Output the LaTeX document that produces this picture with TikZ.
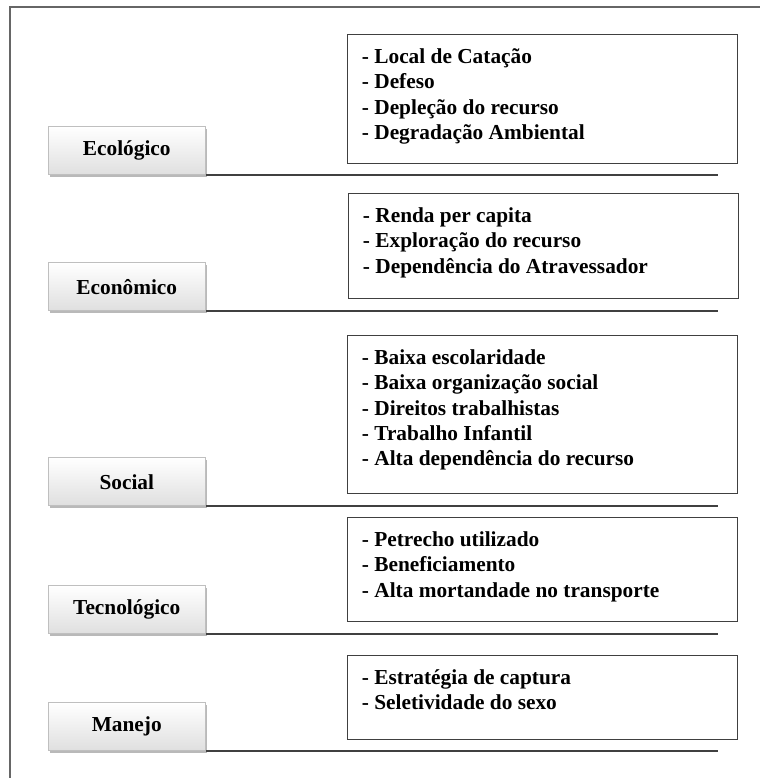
\documentclass[tikz,border=0pt]{standalone}
\usepackage{fontspec}
\setmainfont{Liberation Serif}
\usetikzlibrary{positioning, shadows}

\tikzset{
    dimbox/.style={rectangle, draw=gray!50, line width=0.4pt,
        top color=white, bottom color=gray!25,
        drop shadow={shadow xshift=1.6pt, shadow yshift=-1.6pt, fill=gray!55, opacity=1},
        minimum width=117.75pt, minimum height=36pt, inner sep=0pt,
        font=\fontsize{16pt}{19pt}\selectfont\bfseries, anchor=south west},
    listbox/.style={rectangle, draw=black!75, line width=1pt,
        minimum width=292.5pt, inner sep=0pt, anchor=north west},
    listtext/.style={inner sep=0pt, align=left,
        font=\fontsize{16pt}{19.1pt}\selectfont\bfseries},
    divider/.style={draw=black!75, line width=1pt},
    frameline/.style={draw=black!60, line width=1.1pt}
}

\begin{document}
\begin{tikzpicture}[x=0.75pt, y=-0.75pt]
    \useasboundingbox (0,0) rectangle (760,778);

    % outer frame (only top and left edges show)
    \draw[frameline] (760,7) -- (10,7) -- (10,778);

    % dimension labels
    \node[dimbox] (eco) at (48,175) {Ecológico};
    \node[dimbox] (econ) at (48,311) {Econômico};
    \node[dimbox] (soc) at (48,506) {Social};
    \node[dimbox] (tec) at (48,634) {Tecnológico};
    \node[dimbox] (man) at (48,751) {Manejo};

    % item boxes
    \node[listbox, minimum height=96.75pt] (ecoitems) at (347,34) {};
    \node[listbox, minimum height=78.75pt] (econitems) at (348,193) {};
    \node[listbox, minimum height=118.5pt] (socitems) at (347,335) {};
    \node[listbox, minimum height=78pt] (tecitems) at (347,517) {};
    \node[listbox, minimum height=63pt] (manitems) at (347,655) {};

    \node[listtext, below right=10.5pt and 11pt of ecoitems.north west] (ecotext)
        {- Local de Catação\\- Defeso\\- Depleção do recurso\\- Degradação Ambiental};
    \node[listtext, below right=10.5pt and 11pt of econitems.north west] (econtext)
        {- Renda per capita\\- Exploração do recurso\\- Dependência do Atravessador};
    \node[listtext, below right=10.5pt and 11pt of socitems.north west] (soctext)
        {- Baixa escolaridade\\- Baixa organização social\\- Direitos trabalhistas\\- Trabalho Infantil\\- Alta dependência do recurso};
    \node[listtext, below right=10.5pt and 11pt of tecitems.north west] (tectext)
        {- Petrecho utilizado\\- Beneficiamento\\- Alta mortandade no transporte};
    \node[listtext, below right=10.5pt and 11pt of manitems.north west] (mantext)
        {- Estratégia de captura\\- Seletividade do sexo};

    % divider lines
    \coordinate (ecoend) at (718,175);
    \coordinate (econend) at (718,311);
    \coordinate (socend) at (718,506);
    \coordinate (tecend) at (718,634);
    \coordinate (manend) at (718,751);
    \draw[divider] (eco.south east) -- (ecoend);
    \draw[divider] (econ.south east) -- (econend);
    \draw[divider] (soc.south east) -- (socend);
    \draw[divider] (tec.south east) -- (tecend);
    \draw[divider] (man.south east) -- (manend);
\end{tikzpicture}
\end{document}
